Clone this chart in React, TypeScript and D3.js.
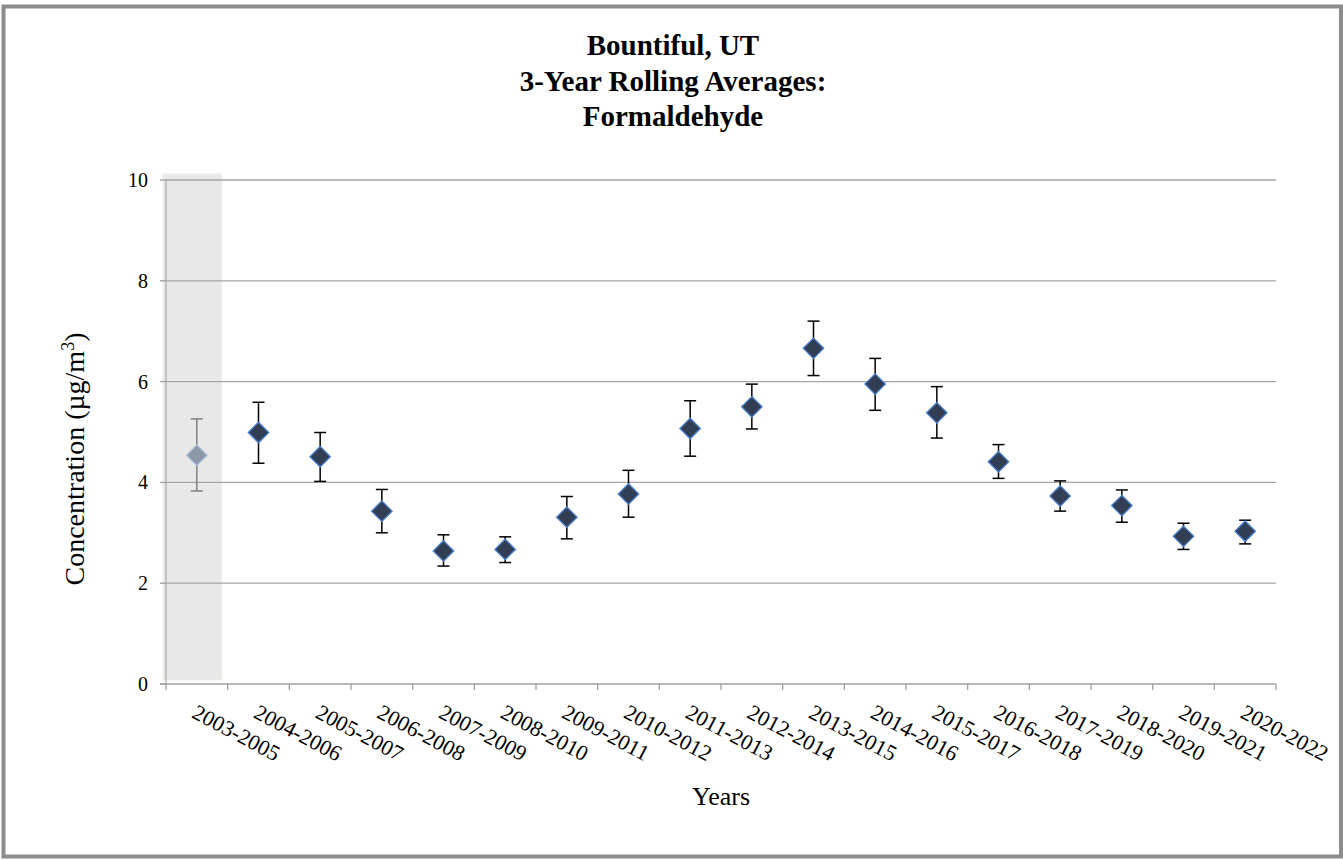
import React from "react";
import * as d3 from "d3";

const categories = [
  "2003-2005", "2004-2006", "2005-2007", "2006-2008", "2007-2009", "2008-2010",
  "2009-2011", "2010-2012", "2011-2013", "2012-2014", "2013-2015", "2014-2016",
  "2015-2017", "2016-2018", "2017-2019", "2018-2020", "2019-2021", "2020-2022",
];
const means = [4.54, 4.99, 4.51, 3.43, 2.64, 2.67, 3.31, 3.77, 5.07, 5.5, 6.66, 5.95, 5.38, 4.41, 3.73, 3.54, 2.93, 3.03];
const upper = [5.26, 5.59, 4.99, 3.86, 2.96, 2.92, 3.72, 4.24, 5.62, 5.95, 7.2, 6.46, 5.9, 4.75, 4.03, 3.85, 3.19, 3.25];
const lower = [3.83, 4.38, 4.02, 3.0, 2.34, 2.41, 2.88, 3.31, 4.52, 5.06, 6.12, 5.43, 4.88, 4.08, 3.43, 3.21, 2.67, 2.78];
const yTicks = [0, 2, 4, 6, 8, 10];
const titleLines = ["Bountiful, UT", "3-Year Rolling Averages:", "Formaldehyde"];
const highlighted = ["2003-2005"];

const W = 1343;
const H = 860;
const FONT = "Liberation Serif, Times New Roman, Tinos, DejaVu Serif, Noto Serif, serif";

export default function App() {
  const x = d3.scaleBand<string>().domain(categories).range([166, 1276]);
  const y = d3.scaleLinear().domain([0, 10]).range([684, 180]);
  const bw = x.bandwidth();
  const diamond = d3.symbol().type(d3.symbolSquare).size(210)();

  return (
    <svg width={W} height={H} style={{ position: "absolute", left: 0, top: 0, background: "#fff", fontFamily: FONT }}>
      <rect x={3.5} y={6.5} width={1337.5} height={850} fill="#fff" stroke="#8c8c8c" strokeWidth={4} />
      {/* title */}
      <text textAnchor="middle" style={{ fontFamily: FONT }} fontWeight="bold" fontSize={29} fill="#000">
        {titleLines.map((t, i) => (
          <tspan key={t} x={673} y={55 + i * 35.5}>{t}</tspan>
        ))}
      </text>
      {/* highlight band */}
      {highlighted.map((c) => (
        <rect key={c} x={(x(c) as number) - 3} y={174} width={bw - 3} height={506} fill="#e8e8e8" stroke="#eeeee4" strokeWidth={1} />
      ))}
      {/* gridlines */}
      {yTicks.filter((t) => t > 0).map((t) => (
        <line key={t} x1={166} x2={1276} y1={y(t)} y2={y(t)} stroke="#a5a5a5" strokeWidth={1.3} />
      ))}
      {/* axes */}
      <line x1={166} x2={166} y1={180} y2={684} stroke="#b0b0b0" strokeWidth={1.3} />
      <line x1={160} x2={1276} y1={684} y2={684} stroke="#a0a0a0" strokeWidth={1.3} />
      {yTicks.map((t) => (
        <g key={t}>
          <line x1={160} x2={166} y1={y(t)} y2={y(t)} stroke="#a0a0a0" strokeWidth={1.3} />
          <text x={148} y={y(t)} dy="0.35em" textAnchor="end" style={{ fontFamily: FONT }} fontSize={20} fill="#000">{t}</text>
        </g>
      ))}
      {categories.map((c) => (
        <line key={c} x1={(x(c) as number)} x2={(x(c) as number)} y1={684} y2={690} stroke="#a0a0a0" strokeWidth={1.3} />
      ))}
      <line x1={1276} x2={1276} y1={684} y2={690} stroke="#a0a0a0" strokeWidth={1.3} />
      {/* x labels */}
      {categories.map((c) => {
        const cx = (x(c) as number) + bw / 2 - 6;
        return (
          <text key={c} transform={`translate(${cx},717) rotate(28)`} style={{ fontFamily: FONT }} fontSize={22} fill="#000">{c}</text>
        );
      })}
      {/* error bars + markers */}
      {categories.map((c, i) => {
        const cx = (x(c) as number) + bw / 2;
        const hi = highlighted.includes(c);
        const col = hi ? "#808080" : "#000";
        return (
          <g key={c}>
            <line x1={cx} x2={cx} y1={y(upper[i])} y2={y(lower[i])} stroke={col} strokeWidth={1.5} />
            <line x1={cx - 6} x2={cx + 6} y1={y(upper[i])} y2={y(upper[i])} stroke={col} strokeWidth={1.5} />
            <line x1={cx - 6} x2={cx + 6} y1={y(lower[i])} y2={y(lower[i])} stroke={col} strokeWidth={1.5} />
            <path d={diamond as string} transform={`translate(${cx},${y(means[i])}) rotate(45)`}
              fill={hi ? "#8e97a6" : "#323e54"} stroke={hi ? "#a9bfe0" : "#4a7fd0"} strokeWidth={1.3} />
          </g>
        );
      })}
      {/* axis titles */}
      <text x={721} y={805} textAnchor="middle" style={{ fontFamily: FONT }} fontSize={26} fill="#000">Years</text>
      <text transform="translate(84,459) rotate(-90)" textAnchor="middle" style={{ fontFamily: FONT }} fontSize={28} fill="#000">
        Concentration (µg/m<tspan dy={-10} fontSize={18}>3</tspan><tspan dy={10}>)</tspan>
      </text>
    </svg>
  );
}
